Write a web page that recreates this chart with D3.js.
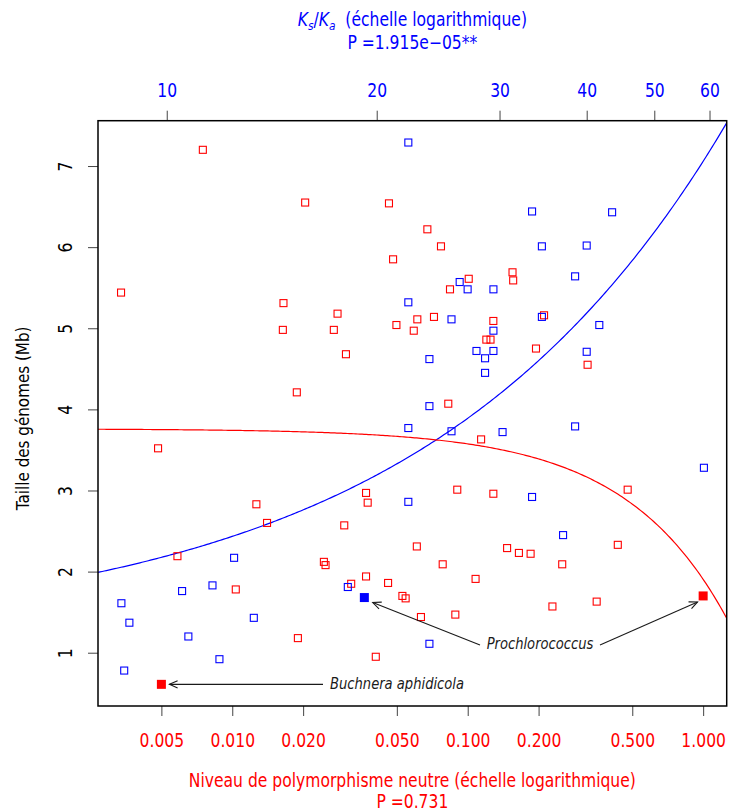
<!DOCTYPE html>
<html><head><meta charset="utf-8">
<script src="https://cdn.jsdelivr.net/npm/d3@7"></script>
<style>body{margin:0;background:#fff}svg{display:block}</style>
</head><body>
<svg id="chart" width="729" height="812"></svg>
<script>
// ---- data (red: vs neutral polymorphism, bottom axis; blue: vs Ks/Ka, top axis)
const polymorphism = [0.0075,0.0204,0.0463,0.0482,0.00337,0.0165,0.0280,0.0164,0.0270,0.0498,0.0304,0.0188,0.0674,0.0770,0.155,0.156,0.101,0.0841,0.0611,0.0719,0.1285,0.0590,0.120,0.125,0.195,0.211,0.323,0.0827,0.00484,0.01266,0.01405,0.0299,0.0370,0.0376,0.00585,0.0245,0.0249,0.0370,0.0320,0.0459,0.0528,0.0545,0.01035,0.0190,0.0407,0.114,0.478,0.0903,0.1285,0.0608,0.147,0.165,0.185,0.434,0.0783,0.252,0.108,0.229,0.353,0.0633,0.0886];
const polySize = [7.20,6.55,6.54,5.85,5.44,5.31,5.18,4.98,4.98,5.04,4.68,4.21,6.22,6.01,5.69,5.59,5.61,5.48,5.11,5.14,5.09,4.97,4.86,4.86,4.75,5.16,4.55,4.07,3.52,2.83,2.60,2.57,2.97,2.85,2.19,2.12,2.08,1.94,1.85,1.86,1.70,1.67,1.78,1.18,0.95,3.63,3.01,3.01,2.96,2.31,2.29,2.23,2.22,2.33,2.09,2.09,1.91,1.57,1.63,1.44,1.47];
const ksKa = [22.2,33.4,43.5,34.5,40.0,38.5,26.3,27.0,29.4,22.2,25.6,29.4,27.8,29.4,40.0,41.7,34.5,23.8,28.6,28.6,23.8,22.2,25.6,30.3,38.5,58.9,33.4,22.2,37.0,12.49,18.18,11.63,10.52,8.61,8.84,13.33,10.74,11.90,8.69,23.8];
const ksKaSize = [7.29,6.44,6.43,6.01,6.02,5.64,5.57,5.48,5.48,5.32,5.11,4.97,4.72,4.72,4.71,5.04,5.14,4.62,4.63,4.45,4.04,3.77,3.73,3.72,3.79,3.28,2.92,2.86,2.45,2.17,1.81,1.83,1.76,1.61,1.37,1.43,1.20,0.92,0.78,1.11];
const highlightPolyNames = ["Buchnera aphidicola","Prochlorococcus"];
const highlightPolyX = [0.005, 1.0];
const highlightPolyY = [0.61, 1.70];
const highlightKsKaNames = ["Prochlorococcus"];
const highlightKsKaX = [19.2];
const highlightKsKaY = [1.68];
const fitKsKa = [1.195, 0.0998];     // intercept, slope
const fitPoly = [3.760, -1.855];     // intercept, slope
const bottomTicks = [0.005,0.01,0.02,0.05,0.1,0.2,0.5,1];
const bottomTickLabels = ["0.005","0.010","0.020","0.050","0.100","0.200","0.500","1.000"];
const topTicks = [10,20,30,40,50,60];
const topTickLabels = ["10","20","30","40","50","60"];
const yTicks = [1,2,3,4,5,6,7];
const yTickLabels = ["1","2","3","4","5","6","7"];

// ---- layout
const L = 98, R = 726.7, T = 120.7, B = 706;
const RED = "#ff0000", BLUE = "#0000ff";
const FONT = "DejaVu Sans";
const SQ = 0.82;   // horizontal squeeze of the reference's narrow lettering

const svg = d3.select("#chart");
const xBottom = d3.scaleLog().domain([0.00269, 1.259]).range([L, R]);
const xTop = d3.scaleLog().domain([7.97, 63.5]).range([L, R]);
const y = d3.scaleLinear().domain([0.343, 7.559]).range([B, T]);

svg.append("clipPath").attr("id", "plotclip").append("rect")
  .attr("x", L).attr("y", T).attr("width", R - L).attr("height", B - T);

// ---- axes
function styleAxis(g, color) {
  g.select(".domain").remove();
  g.selectAll(".tick line").attr("stroke", "#444").attr("stroke-width", 1);
  g.selectAll(".tick text").attr("fill", color).attr("font-family", FONT).attr("font-size", 19);
}
const gB = svg.append("g").attr("transform", `translate(0,${B})`)
  .call(d3.axisBottom(xBottom).tickValues(bottomTicks).tickFormat((d, i) => bottomTickLabels[i]).tickSize(10));
styleAxis(gB, RED);
gB.selectAll(".tick text").attr("x", 0).attr("y", 0).attr("dy", 0)
  .attr("transform", `translate(0,40.7) scale(${SQ},1)`);

const gT = svg.append("g").attr("transform", `translate(0,${T})`)
  .call(d3.axisTop(xTop).tickValues(topTicks).tickFormat((d, i) => topTickLabels[i]).tickSize(10));
styleAxis(gT, BLUE);
gT.selectAll(".tick text").attr("x", 0).attr("y", 0).attr("dy", 0)
  .attr("transform", `translate(0,-24.2) scale(${SQ},1)`);

const gL = svg.append("g").attr("transform", `translate(${L},0)`)
  .call(d3.axisLeft(y).tickValues(yTicks).tickFormat((d, i) => yTickLabels[i]).tickSize(10));
styleAxis(gL, "#000");
gL.selectAll(".tick text").attr("x", 0).attr("y", 0).attr("dy", 0)
  .attr("text-anchor", "middle").attr("transform", `translate(-26,0) rotate(-90) scale(${SQ},1)`);

// ---- fitted curves
const nS = 300;
const sampTop = d3.range(nS + 1).map(i => Math.exp(Math.log(7.97) + (Math.log(63.5) - Math.log(7.97)) * i / nS));
const sampBot = d3.range(nS + 1).map(i => Math.exp(Math.log(0.00269) + (Math.log(1.259) - Math.log(0.00269)) * i / nS));
const curves = svg.append("g").attr("clip-path", "url(#plotclip)");
curves.append("path").datum(sampTop)
  .attr("d", d3.line().x(d => xTop(d)).y(d => y(fitKsKa[0] + fitKsKa[1] * d)))
  .attr("fill", "none").attr("stroke", BLUE).attr("stroke-width", 1.2);
curves.append("path").datum(sampBot)
  .attr("d", d3.line().x(d => xBottom(d)).y(d => y(fitPoly[0] + fitPoly[1] * d)))
  .attr("fill", "none").attr("stroke", RED).attr("stroke-width", 1.2);

// ---- points
const S = 7;
const pts = svg.append("g");
pts.selectAll("rect.red").data(polymorphism).join("rect").attr("class", "red")
  .attr("x", d => xBottom(d) - S / 2).attr("y", (d, i) => y(polySize[i]) - S / 2)
  .attr("width", S).attr("height", S).attr("fill", "none").attr("stroke", RED).attr("stroke-width", 1.1);
pts.selectAll("rect.blue").data(ksKa).join("rect").attr("class", "blue")
  .attr("x", d => xTop(d) - S / 2).attr("y", (d, i) => y(ksKaSize[i]) - S / 2)
  .attr("width", S).attr("height", S).attr("fill", "none").attr("stroke", BLUE).attr("stroke-width", 1.1);
const SF = 9;
pts.selectAll("rect.redf").data(highlightPolyX).join("rect").attr("class", "redf")
  .attr("x", d => xBottom(d) - SF / 2).attr("y", (d, i) => y(highlightPolyY[i]) - SF / 2)
  .attr("width", SF).attr("height", SF).attr("fill", RED);
pts.selectAll("rect.bluef").data(highlightKsKaX).join("rect").attr("class", "bluef")
  .attr("x", d => xTop(d) - SF / 2).attr("y", (d, i) => y(highlightKsKaY[i]) - SF / 2)
  .attr("width", SF).attr("height", SF).attr("fill", BLUE);

// ---- box
svg.append("rect").attr("x", L).attr("y", T).attr("width", R - L).attr("height", B - T)
  .attr("fill", "none").attr("stroke", "#000").attr("stroke-width", 1.5);

// ---- annotations
const ann = svg.append("g").attr("stroke", "#1a1a1a").attr("stroke-width", 1.1).attr("fill", "none");
function arrow(x0, y0, x1, y1) {
  ann.append("line").attr("x1", x0).attr("y1", y0).attr("x2", x1).attr("y2", y1);
  const a = Math.atan2(y1 - y0, x1 - x0), len = 9, h = 0.42;
  const p1 = [x1 - len * Math.cos(a - h), y1 - len * Math.sin(a - h)];
  const p2 = [x1 - len * Math.cos(a + h), y1 - len * Math.sin(a + h)];
  ann.append("path").attr("d", `M${p1}L${x1},${y1}L${p2}`);
}
const bx = xBottom(highlightPolyX[0]), by = y(highlightPolyY[0]);
arrow(323, by, bx + 8, by);
const px1 = xTop(highlightKsKaX[0]), py1 = y(highlightKsKaY[0]);
arrow(480, 645, px1 + 8.4, py1 + 5);
const px2 = xBottom(highlightPolyX[1]), py2 = y(highlightPolyY[1]);
arrow(600, 645, px2 - 5.6, py2 + 6);

function stext(x, yy, extra) {
  return svg.append("text").attr("transform", `translate(${x},${yy}) ${extra || ""} scale(${SQ},1)`)
    .attr("font-family", FONT);
}
stext(330, by + 4.3).attr("font-style", "italic").attr("font-size", 16).attr("fill", "#1a1a1a")
  .text(highlightPolyNames[0]);
stext(540, 649).attr("text-anchor", "middle").attr("font-style", "italic").attr("font-size", 16)
  .attr("fill", "#1a1a1a").text(highlightPolyNames[1]);

// ---- titles
const cx = (L + R) / 2;
const t1 = stext(cx, 26).attr("text-anchor", "middle").attr("font-size", 19).attr("fill", BLUE);
t1.append("tspan").attr("font-style", "italic").text("K");
t1.append("tspan").attr("font-style", "italic").attr("font-size", 13).attr("dy", 4).text("s");
t1.append("tspan").attr("dy", -4).text("/");
t1.append("tspan").attr("font-style", "italic").text("K");
t1.append("tspan").attr("font-style", "italic").attr("font-size", 13).attr("dy", 4).text("a");
t1.append("tspan").attr("dy", -4).text("\u00a0\u00a0(échelle logarithmique)");
stext(cx, 49).attr("text-anchor", "middle").attr("font-size", 19).attr("fill", BLUE).text("P =1.915e\u221205**");

stext(cx, 787).attr("text-anchor", "middle").attr("font-size", 19).attr("fill", RED)
  .text("Niveau de polymorphisme neutre (échelle logarithmique)");
stext(cx, 808).attr("text-anchor", "middle").attr("font-size", 19).attr("fill", RED).text("P =0.731");

stext(29, (T + B) / 2 + 5, "rotate(-90)").attr("text-anchor", "middle").attr("font-size", 18.5)
  .attr("fill", "#000").text("Taille des génomes (Mb)");
</script>
</body></html>
